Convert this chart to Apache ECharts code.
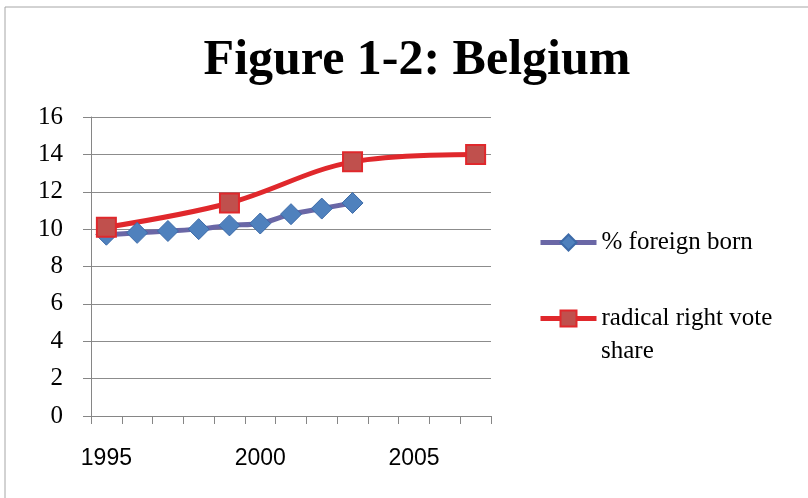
<!DOCTYPE html>
<html>
<head>
<meta charset="utf-8">
<script src="https://cdn.jsdelivr.net/npm/echarts@6/dist/echarts.min.js"></script>
<style>
html, body { margin: 0; padding: 0; background: #fff; }
#chart { width: 808px; height: 498px; }
</style>
</head>
<body>
<div id="chart"></div>
<script>
var years = ['1995','1996','1997','1998','1999','2000','2001','2002','2003','2004','2005','2006','2007'];
var foreign_born = [9.7, 9.8, 9.9, 10.0, 10.2, 10.3, 10.8, 11.1, 11.4, null, null, null, null];
var radical_right = [10.1, null, null, null, 11.4, null, null, null, 13.6, null, null, null, 14.0];
var y_ticks = [0, 16, 2];

var blue_line = '#6a67a6';
var red_line = '#e0282c';

var legend_font = {
	fontFamily: 'Liberation Serif',
	fontSize: 25,
	color: '#000'
};

var myChart = echarts.init(document.getElementById('chart'));
myChart.setOption({
	animation: false,
	title: {
		text: 'Figure 1-2: Belgium',
		left: 412,
		top: 31,
		textAlign: 'center',
		textStyle: {
			fontFamily: 'Liberation Serif',
			fontWeight: 'bold',
			fontSize: 50,
			color: '#000'
		}
	},
	graphic: [{
		type: 'rect',
		shape: {x: 5, y: 7, width: 900, height: 600},
		style: {fill: 'none', stroke: '#a6a6a6', lineWidth: 1},
		silent: true
	},
	{
		// second line of the wrapped legend label
		type: 'text',
		left: 601,
		top: 339,
		style: {
			text: 'share',
			font: '25px "Liberation Serif"',
			fill: '#000'
		},
		silent: true
	}],
	legend: [{
		orient: 'vertical',
		left: 538,
		top: 230,
		padding: 0,
		itemWidth: 56,
		itemHeight: 20,
		data: [{name: '% foreign born', lineStyle: {width: 5, color: blue_line}}],
		textStyle: legend_font
	},
	{
		orient: 'vertical',
		left: 538,
		top: 306,
		padding: 0,
		itemWidth: 56,
		itemHeight: 20,
		data: [{name: 'radical right vote share', lineStyle: {width: 5, color: red_line}}],
		formatter: function(name){
			return 'radical right vote';
		},
		textStyle: legend_font
	}],
	grid: {
		left: 91,
		top: 117,
		width: 400,
		height: 299
	},
	xAxis: [{
		type: 'category',
		data: years,
		boundaryGap: true,
		axisLine: {lineStyle: {color: '#868686', width: 1}},
		axisTick: {show: true, length: 8, interval: 0, lineStyle: {color: '#868686'}},
		axisLabel: {
			interval: 4,
			margin: 31,
			fontFamily: 'Liberation Sans',
			fontSize: 23,
			color: '#000'
		}
	}],
	yAxis: [{
		type: 'value',
		min: y_ticks[0],
		max: y_ticks[1],
		interval: y_ticks[2],
		axisLine: {show: true, lineStyle: {color: '#868686', width: 1}},
		axisTick: {show: true, length: 8, lineStyle: {color: '#868686'}},
		splitLine: {lineStyle: {color: '#8c8c8c', width: 1}},
		axisLabel: {
			margin: 28,
			fontFamily: 'Liberation Serif',
			fontSize: 25,
			color: '#000'
		}
	}],
	series: [
	{
		name: '% foreign born',
		type: 'line',
		data: foreign_born,
		smooth: 0.3,
		showAllSymbol: true,
		symbol: 'diamond',
		symbolSize: 21,
		lineStyle: {color: blue_line, width: 5},
		itemStyle: {color: '#4f81bd', borderColor: '#3c6aa8', borderWidth: 1}
	},
	{
		name: 'radical right vote share',
		type: 'line',
		data: radical_right,
		connectNulls: true,
		smooth: 0.35,
		symbol: 'rect',
		symbolSize: 19,
		lineStyle: {color: red_line, width: 5},
		itemStyle: {color: '#c0504d', borderColor: red_line, borderWidth: 2}
	}
	]
});
</script>
</body>
</html>
